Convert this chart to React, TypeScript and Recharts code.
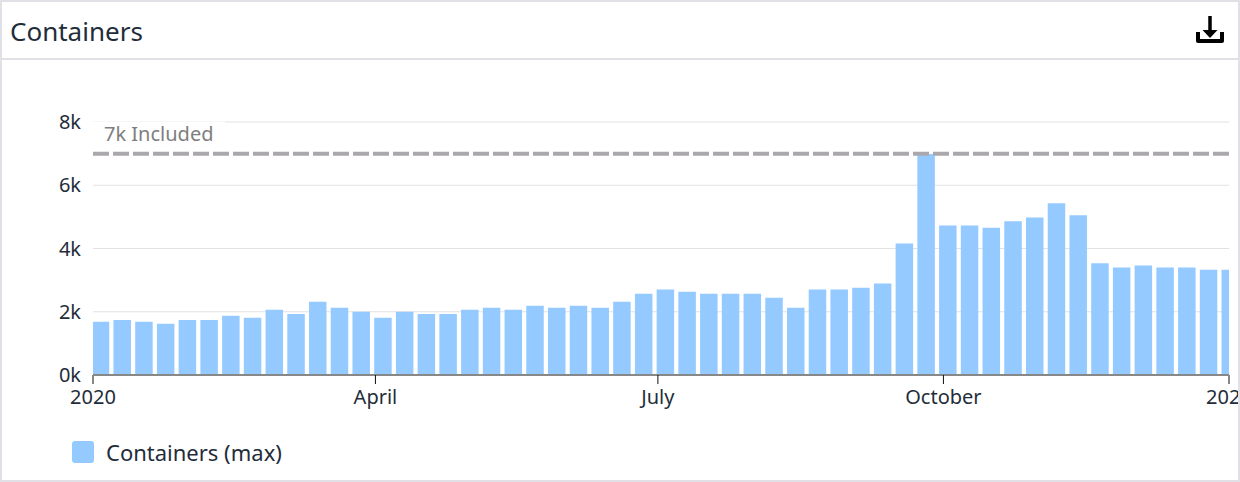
import React from 'react'
import { BarChart, Bar, XAxis, YAxis, CartesianGrid, Legend, ReferenceLine } from 'recharts'

// max containers per week of 2020
const containers = [
  1680, 1740, 1680, 1620, 1740, 1740, 1870, 1810, 2060, 1930,
  2320, 2130, 2000, 1810, 2000, 1930, 1930, 2060, 2130, 2060,
  2190, 2130, 2190, 2130, 2320, 2570, 2700, 2630, 2570, 2570,
  2570, 2440, 2130, 2700, 2700, 2760, 2890, 4160, 6990, 4730,
  4730, 4660, 4860, 4980, 5430, 5050, 3530, 3400, 3460, 3400,
  3400, 3330, 3330,
]
const yTicks = [0, 2000, 4000, 6000, 8000]
// day of the (leap) year for each month label
const monthTicks = [0, 91, 182, 274, 366]
const monthLabels = ['2020', 'April', 'July', 'October', '2021']
const includedLimit = 7000

const data = containers.map((total, i) => ({ day: 2.45 + i * 7, total }))

const FONT = '"Noto Sans", sans-serif'
const INK = '#1f2d3a'
const BAR = '#94caff'

function MonthTick({ x, y, payload, index }: any) {
  const edge = index === 0 || index === monthTicks.length - 1
  return (
    <g>
      <line x1={x} x2={x} y1={y - 8} y2={y + 1} stroke={edge ? '#888' : '#111'} strokeWidth={edge ? 2 : 1} />
      <text x={x} y={y + 21} textAnchor="middle" fontFamily={FONT} fontSize={20} fill={INK}>
        {monthLabels[monthTicks.indexOf(payload.value)]}
      </text>
    </g>
  )
}

function IncludedLabel({ viewBox }: any) {
  return (
    <g>
      <rect x={viewBox.x} y={viewBox.y - 32} width={132} height={29} fill="#fff" />
      <text x={viewBox.x + 11} y={viewBox.y - 13} fontFamily={FONT} fontSize={20} fill="#7e7e7e">
        7k Included
      </text>
    </g>
  )
}

function LegendBox() {
  return (
    <div style={{ display: 'flex', alignItems: 'center', fontFamily: FONT, fontSize: 22, lineHeight: '22px', color: INK }}>
      <span style={{ width: 22, height: 22, borderRadius: 3, background: BAR, marginRight: 12 }} />
      Containers (max)
    </div>
  )
}

export default function App() {
  return (
    <div style={{ position: 'absolute', left: 0, top: 0, width: 1240, height: 482, boxSizing: 'border-box', border: '2px solid #e0e0e6', overflow: 'hidden', background: '#fff' }}>
      <div style={{ position: 'absolute', left: 8, top: 10, fontFamily: FONT, fontSize: 26, lineHeight: '38px', color: INK }}>
        Containers
      </div>
      <svg style={{ position: 'absolute', left: 1192, top: 12 }} width={32} height={32} viewBox="0 0 32 32">
        <path d="M16 2 V20" stroke="#000" strokeWidth={3.5} fill="none" />
        <path d="M8.5 16 H23.5 L16 24 Z" fill="#000" />
        <path d="M4 18 V27 H28 V18" stroke="#000" strokeWidth={4} fill="none" strokeLinejoin="round" />
      </svg>
      <div style={{ position: 'absolute', left: 0, right: 0, top: 56, height: 2, background: '#e0e0e6' }} />
      <div style={{ position: 'absolute', left: -2, top: -2 }}>
        <BarChart
          width={1240}
          height={482}
          data={data}
          margin={{ top: 122, right: 11, left: 0, bottom: 40 }}
          barSize={17.5}
        >
          <CartesianGrid vertical={false} stroke="#e2e2e6" strokeWidth={1} />
          <XAxis
            dataKey="day"
            type="number"
            domain={[0, 366]}
            allowDataOverflow
            ticks={monthTicks}
            interval={0}
            height={45}
            tickLine={false}
            axisLine={{ stroke: '#888', strokeWidth: 2 }}
            tick={<MonthTick />}
          />
          <YAxis
            domain={[0, 8000]}
            ticks={yTicks}
            width={93}
            axisLine={false}
            tickLine={false}
            tickMargin={6}
            tickFormatter={(v: number) => `${v / 1000}k`}
            tick={{ fontFamily: FONT, fontSize: 20, fill: INK }}
          />
          <Bar dataKey="total" name="Containers (max)" fill={BAR} isAnimationActive={false} />
          <ReferenceLine
            y={includedLimit}
            stroke="#aaa8ac"
            strokeWidth={4}
            strokeDasharray="16 4"
            label={<IncludedLabel />}
          />
          <Legend
            verticalAlign="bottom"
            align="left"
            content={<LegendBox />}
            wrapperStyle={{ left: 72, bottom: 19, width: 400, height: 22 }}
          />
        </BarChart>
      </div>
    </div>
  )
}
